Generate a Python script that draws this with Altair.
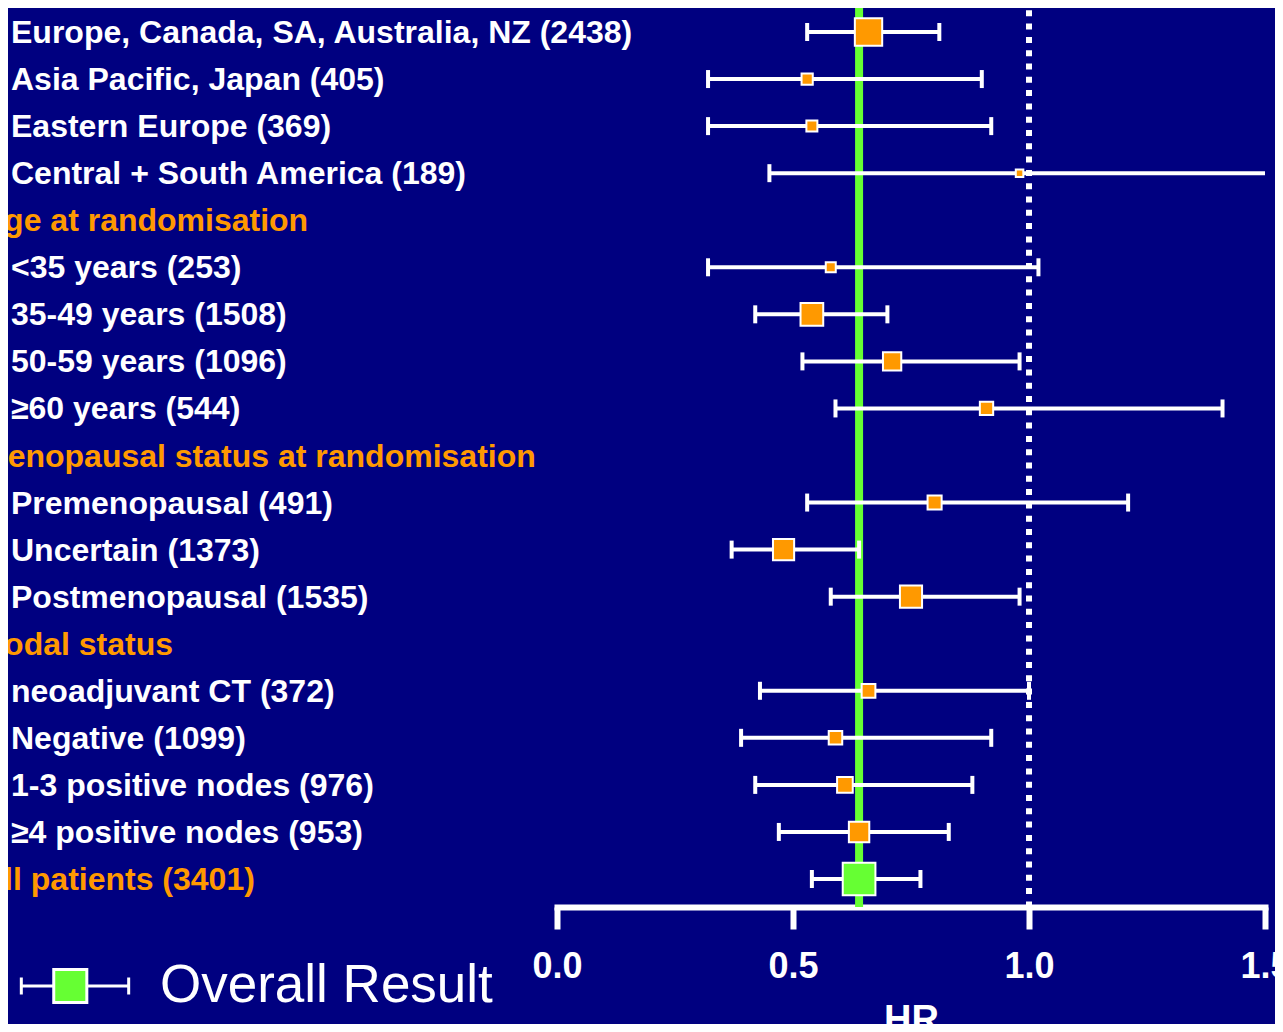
import altair as alt
import pandas as pd

# ---- data ----
labels = [
    "Europe, Canada, SA, Australia, NZ (2438)",
    "Asia Pacific, Japan (405)",
    "Eastern Europe (369)",
    "Central + South America (189)",
    "Age at randomisation",
    "<35 years (253)",
    "35-49 years (1508)",
    "50-59 years (1096)",
    "≥60 years (544)",
    "Menopausal status at randomisation",
    "Premenopausal (491)",
    "Uncertain (1373)",
    "Postmenopausal (1535)",
    "Nodal status",
    "neoadjuvant CT (372)",
    "Negative (1099)",
    "1-3 positive nodes (976)",
    "≥4 positive nodes (953)",
    "All patients (3401)",
]
row_kind = ["item", "item", "item", "item", "header",
            "item", "item", "item", "item", "header",
            "item", "item", "item", "header",
            "item", "item", "item", "item", "overall"]
hr = [0.66, 0.53, 0.54, 0.98, None, 0.58, 0.54, 0.71, 0.91, None,
      0.80, 0.48, 0.75, None, 0.66, 0.59, 0.61, 0.64, 0.64]
ci_low = [0.53, 0.32, 0.32, 0.45, None, 0.32, 0.42, 0.52, 0.59, None,
          0.53, 0.37, 0.58, None, 0.43, 0.39, 0.42, 0.47, 0.54]
ci_high = [0.81, 0.90, 0.92, 2.10, None, 1.02, 0.70, 0.98, 1.41, None,
           1.21, 0.64, 0.98, None, 1.00, 0.92, 0.88, 0.83, 0.77]
axis_ticks = [0.0, 0.5, 1.0, 1.5]
no_effect = [1.0]
legend_entry = ["Overall Result"]

NAVY = "#000080"
ORANGE = "#FF9900"
GREEN = "#66FF33"
WHITE = "#FFFFFF"
FONT = "Liberation Sans"

df = pd.DataFrame({
    "row": list(range(len(labels))),
    "label": labels,
    "kind": row_kind,
    "hr": hr,
    "lo": ci_low,
    "hi": ci_high,
})
df["group"] = df["kind"].map({"overall": "Overall Result", "item": "Subgroup", "header": "Header"})

xs = alt.Scale(domain=[0, 1.5], nice=False, zero=False, clamp=True)
ys = alt.Scale(domain=[-0.51, 18.595], reverse=True, nice=False, zero=False)

x_axis = alt.Axis(
    values=axis_ticks, format=".1f", title="HR", grid=False,
    domainColor=WHITE, domainWidth=6, domainCap="square",
    tickColor=WHITE, tickWidth=6, tickSize=22,
    labelColor=WHITE, labelFont=FONT, labelFontSize=36, labelFontWeight="bold",
    labelPadding=20, labelFlush=False,
    titleColor=WHITE, titleFont=FONT, titleFontSize=38, titleFontWeight="bold",
    titlePadding=17,
)
y_enc = alt.Y("row:Q", scale=ys, axis=None)

base = alt.Chart(df)

overall_line = base.transform_filter("datum.kind == 'overall'").mark_rule(
    color=GREEN, strokeWidth=8
).encode(x=alt.X("hr:Q", scale=xs, axis=x_axis))

null_line = alt.Chart(pd.DataFrame({"v": no_effect})).mark_rule(
    color=WHITE, strokeWidth=6, strokeDash=[6, 7.3], strokeDashOffset=11
).encode(x=alt.X("v:Q", scale=xs, axis=x_axis))

ci = base.transform_filter("isValid(datum.hr)").mark_rule(
    color=WHITE, strokeWidth=4
).encode(x=alt.X("lo:Q", scale=xs, axis=x_axis), x2="hi:Q", y=y_enc)

caps = base.transform_fold(["lo", "hi"], as_=["end", "val"]).transform_filter(
    "isValid(datum.val) && datum.val <= 1.5"
).mark_tick(orient="vertical", color=WHITE, thickness=4, size=18, opacity=1).encode(
    x=alt.X("val:Q", scale=xs, axis=x_axis), y=y_enc
)

legend_path = ("M-1,0H-0.39M0.217,0H1M-0.985,-0.156V0.156M0.985,-0.156V0.156"
               "M-0.39,-0.303H0.217V0.303H-0.39Z")

squares = base.transform_filter("isValid(datum.hr)").transform_calculate(
    side="11.6 / log(datum.hi / datum.lo)",
    area="datum.side * datum.side",
).mark_square(filled=True, opacity=1, stroke=WHITE, strokeWidth=2).encode(
    x=alt.X("hr:Q", scale=xs, axis=x_axis),
    y=y_enc,
    size=alt.Size("area:Q", scale=None),
    color=alt.Color(
        "group:N", title=None,
        scale=alt.Scale(domain=["Overall Result", "Subgroup"], range=[GREEN, ORANGE]),
        legend=alt.Legend(
            values=legend_entry, orient="none", legendX=-538, legendY=922,
            direction="vertical", padding=0,
            symbolType=legend_path, symbolSize=11881,
            symbolStrokeColor=WHITE, symbolStrokeWidth=3, symbolOpacity=1,
            labelFont=FONT, labelFontSize=53, labelColor=WHITE,
            labelOffset=29, labelLimit=600,
        ),
    ),
)

item_labels = base.transform_filter("datum.kind == 'item'").mark_text(
    align="left", baseline="middle", font=FONT, fontWeight="bold", fontSize=32,
    color=WHITE, dy=1
).encode(x=alt.value(-546), y=y_enc, text="label:N")

header_labels = base.transform_filter("datum.kind != 'item'").mark_text(
    align="left", baseline="middle", font=FONT, fontWeight="bold", fontSize=32,
    color=ORANGE, dy=1
).encode(x=alt.value(-576), y=y_enc, text="label:N")

chart = alt.layer(
    overall_line, null_line, ci, caps, squares, item_labels, header_labels
).properties(
    width=708, height=899,
    autosize=alt.AutoSizeParams(type="none"),
    padding={"left": 549, "top": 0, "right": 10, "bottom": 117},
).configure(background=NAVY, font=FONT).configure_view(strokeWidth=0)

chart.save("out.html", embed_options={"renderer": "svg", "actions": False})
